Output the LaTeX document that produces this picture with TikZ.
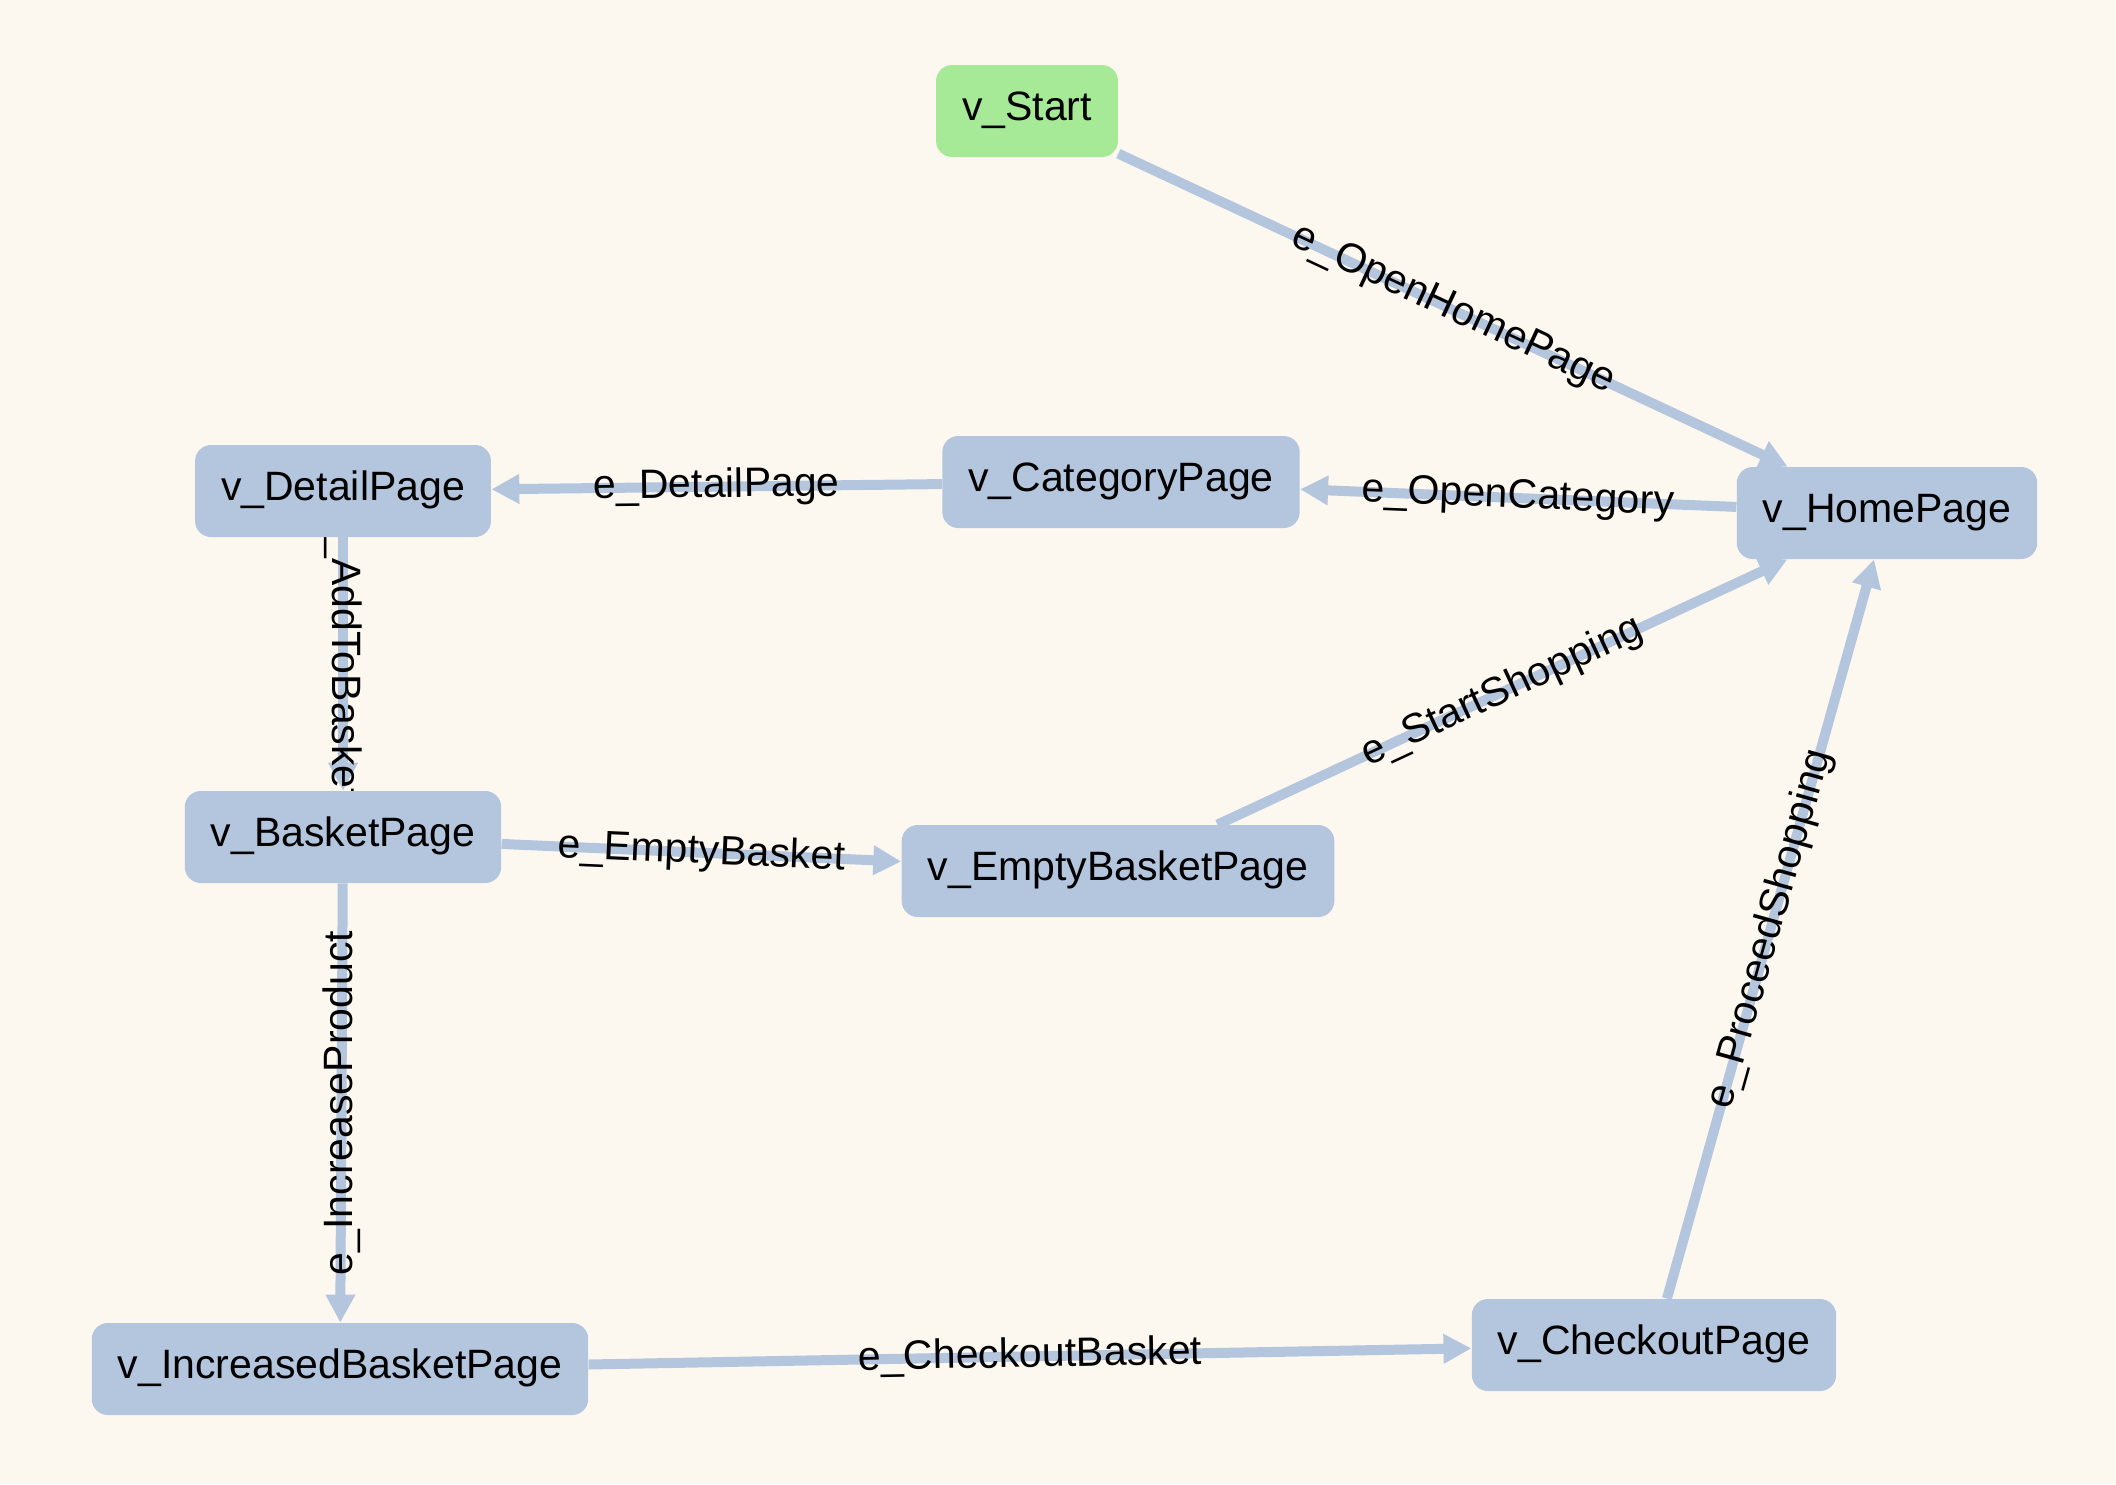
\documentclass[tikz,border=0pt]{standalone}
\usepackage{fontspec}
\setmainfont{Liberation Sans}
\usepackage{xcolor}
\usetikzlibrary{arrows.meta}
\definecolor{pagebg}{RGB}{253,248,239}
\definecolor{vertexblue}{RGB}{180,197,222}
\definecolor{startgreen}{RGB}{166,234,152}
\pgfdeclarelayer{edgelayer}
\pgfsetlayers{edgelayer,main}
\tikzset{
vertex/.style={
  rectangle,
  rounded corners=8pt,
  fill=vertexblue,
  minimum height=46pt,
  inner xsep=13pt,
  text height=14.5pt,
  text depth=5pt,
  font=\fontsize{20.5}{24}\selectfont
},
startvertex/.style={vertex,fill=startgreen},
edge/.style={draw=vertexblue,line width=5pt,
  -{Triangle[length=14pt,width=14pt]}},
elabel/.style={font=\fontsize{20.5}{24}\selectfont,inner sep=0pt},
}

\begin{document}
\begin{tikzpicture}[x=0.5pt,y=-0.5pt]
\begin{pgfonlayer}{edgelayer}
\fill[pagebg] (0,0) rectangle (2116,1484);
\end{pgfonlayer}
% the vertices
\node[startvertex] (start) at (1027,111) {v\_Start};
\node[vertex] (home) at (1887,513) {v\_HomePage};
\node[vertex] (category) at (1121,482) {v\_CategoryPage};
\node[vertex] (detail) at (343,491) {v\_DetailPage};
\node[vertex] (basket) at (343,837) {v\_BasketPage};
\node[vertex] (emptybasket) at (1118,871) {v\_EmptyBasketPage};
\node[vertex] (increased) at (340,1369) {v\_IncreasedBasketPage};
\node[vertex] (checkout) at (1654,1345) {v\_CheckoutPage};
% the edges, under the vertices
\begin{pgfonlayer}{edgelayer}
\draw[edge] (start) -- node[elabel,sloped] {e\_OpenHomePage} (home);
\draw[edge] (home) -- node[elabel,sloped] {e\_OpenCategory} (category);
\draw[edge] (category) -- node[elabel,sloped] {e\_DetailPage} (detail);
\draw[edge] (detail) -- node[elabel,rotate=-90,pos=0.47] {e\_AddToBasket} (basket);
\draw[edge] (basket) -- node[elabel,sloped] {e\_EmptyBasket} (emptybasket);
\draw[edge] (emptybasket) -- node[elabel,sloped] {e\_StartShopping} (home);
\draw[edge] (basket) -- node[elabel,rotate=90] {e\_IncreaseProduct} (increased);
\draw[edge] (increased) -- node[elabel,sloped] {e\_CheckoutBasket} (checkout);
\draw[edge] (checkout) -- node[elabel,sloped] {e\_ProceedShopping} (home);
\end{pgfonlayer}
\end{tikzpicture}
\end{document}
